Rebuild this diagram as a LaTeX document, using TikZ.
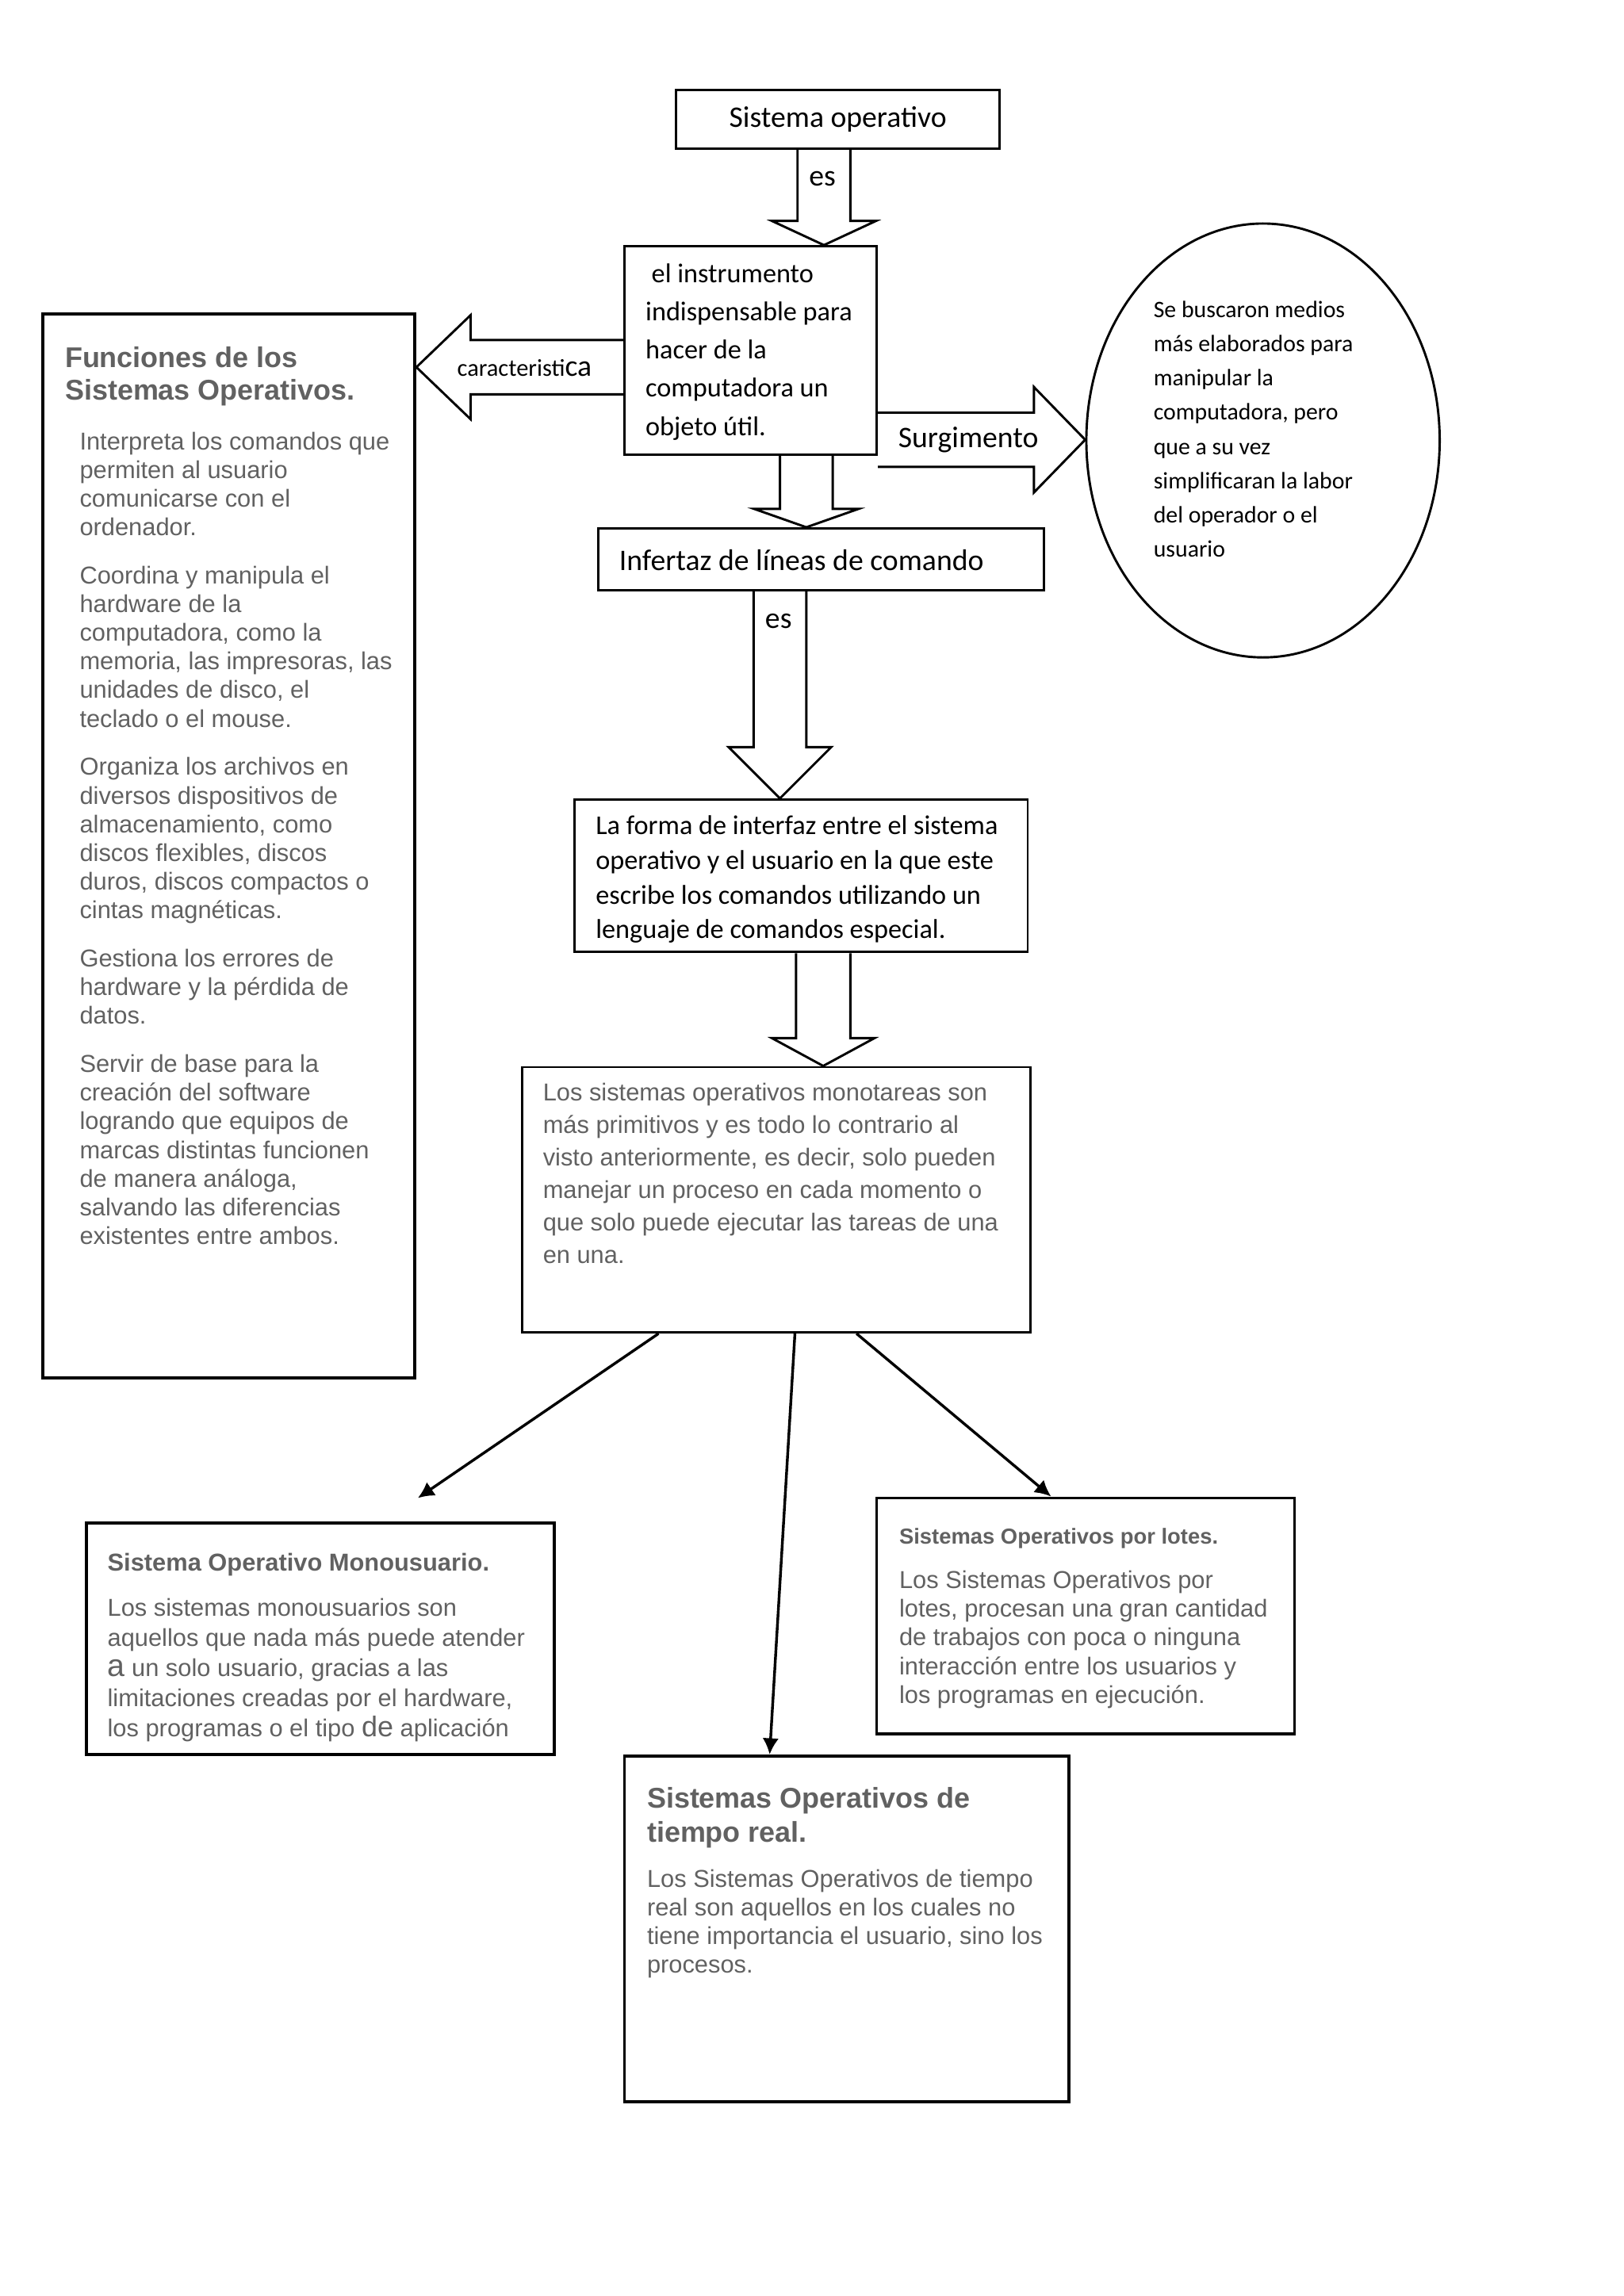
\documentclass[tikz,border=0pt]{standalone}
\usepackage{fontspec}
\setmainfont{Carlito}
\newfontfamily\arial{Liberation Sans}
\usetikzlibrary{calc,shapes.geometric,arrows.meta}
\newlength{\px}
\setlength{\px}{0.01896cm}
\definecolor{grisdoc}{RGB}{97,97,97}
\tikzstyle{caja}=[draw,line width=0.85pt,rectangle,inner sep=0pt]
\tikzstyle{cajagris}=[draw,line width=1.1pt,rectangle,inner sep=0pt]
\tikzstyle{calibri}=[inner sep=0pt,align=left,font=\fontsize{10}{14.07}\selectfont]
\tikzstyle{gris}=[text=grisdoc,inner sep=0pt,anchor=north west,align=left,font=\arial\fontsize{9}{11.1}\selectfont]
\tikzstyle{bloque}=[draw,line width=0.85pt,line join=miter]
\tikzstyle{flecha}=[draw,line width=1pt,-{Latex[length=2.1mm,width=2.1mm]}]
% flecha gruesa hacia abajo: inicio, punta, medio cuerpo, media cabeza, largo cabeza
\newcommand{\bajada}[5]{%
  \draw[bloque] ($(#1)+(-#3,0)$) -- ($(#2)+(-#3,-#5)$) -- ($(#2)+(-#4,-#5)$) -- (#2)
    -- ($(#2)+(#4,-#5)$) -- ($(#2)+(#3,-#5)$) -- ($(#1)+(#3,0)$);}
% flecha gruesa horizontal (largo de cabeza con signo)
\newcommand{\lateral}[5]{%
  \draw[bloque] ($(#1)+(0,-#3)$) -- ($(#2)+({-1*(#5)},-#3)$) -- ($(#2)+({-1*(#5)},-#4)$) -- (#2)
    -- ($(#2)+({-1*(#5)},#4)$) -- ($(#2)+({-1*(#5)},#3)$) -- ($(#1)+(0,#3)$);}
\begin{document}
\begin{tikzpicture}[x=0.01896cm,y=-0.01896cm]
  \useasboundingbox (0,0) rectangle (1107.5,1566.4);
  % cajas
  \node[caja,minimum width=221\px,minimum height=40\px,font=\fontsize{11}{13}\selectfont] (so) at (571.5,81.5) {Sistema operativo};
  \node[caja,minimum width=172\px,minimum height=142\px] (inst) at (512,239) {};
  \node[calibri,anchor=west] (insttxt) at (440,240) {\hspace{.22em}el instrumento\\indispensable para\\hacer de la\\computadora un\\objeto útil.};
  \node[cajagris,minimum width=254\px,minimum height=726\px] (fun) at (156,577) {};
  \node[draw,ellipse,line width=0.85pt,minimum width=241\px,minimum height=296\px,inner sep=0pt] (ell) at (861.5,300.5) {};
  \node[inner sep=0pt,anchor=north west,align=left,font=\fontsize{8.7}{12.6}\selectfont] (elltxt) at (786.5,205) {Se buscaron medios\\más elaborados para\\manipular la\\computadora, pero\\que a su vez\\simplificaran la labor\\del operador o el\\usuario};
  \node[caja,minimum width=304\px,minimum height=42\px] (ilc) at (560,381.5) {};
  \node[inner sep=0pt,anchor=west,font=\fontsize{11}{13}\selectfont] (ilctxt) at (422,382) {Infertaz de líneas de comando};
  \node[caja,minimum width=309\px,minimum height=104\px] (form) at (546.5,597.5) {};
  \node[calibri,anchor=west,font=\fontsize{10}{12.7}\selectfont] (formtxt) at (406,600) {La forma de interfaz entre el sistema\\operativo y el usuario en la que este\\escribe los comandos utilizando un\\lenguaje de comandos especial.};
  \node[caja,minimum width=347\px,minimum height=181\px] (mono) at (529.5,818.5) {};
  \node[gris,font=\arial\fontsize{9}{12}\selectfont] (monotxt) at (370,738.4) {Los sistemas operativos monotareas son\\más primitivos y es todo lo contrario al\\visto anteriormente, es decir, solo pueden\\manejar un proceso en cada momento o\\que solo puede ejecutar las tareas de una\\en una.};
  \node[cajagris,minimum width=319\px,minimum height=158\px] (musr) at (218.5,1118) {};
  \node[cajagris,minimum width=285\px,minimum height=161\px] (lote) at (740.5,1102.5) {};
  \node[cajagris,minimum width=303\px,minimum height=236\px] (real) at (577.5,1316) {};
  % textos grises
  \node[gris,font=\arial\bfseries\fontsize{10.5}{12}\selectfont] (funtit) at (44,236) {Funciones de los\\Sistemas Operativos.};
  \node[gris,font=\arial\fontsize{9}{10.55}\selectfont] (funtxt) at (54,294.3) {Interpreta los comandos que\\permiten al usuario\\comunicarse con el\\ordenador.\\[7.2pt]
    Coordina y manipula el\\hardware de la\\computadora, como la\\memoria, las impresoras, las\\unidades de disco, el\\teclado o el mouse.\\[7.2pt]
    Organiza los archivos en\\diversos dispositivos de\\almacenamiento, como\\discos flexibles, discos\\duros, discos compactos o\\cintas magnéticas.\\[7.2pt]
    Gestiona los errores de\\hardware y la pérdida de\\datos.\\[7.2pt]
    Servir de base para la\\creación del software\\logrando que equipos de\\marcas distintas funcionen\\de manera análoga,\\salvando las diferencias\\existentes entre ambos.};
  \node[gris,font=\arial\bfseries\fontsize{9}{11}\selectfont] (musrtit) at (73,1059.3) {Sistema Operativo Monousuario.};
  \node[gris] (musrtxt) at (73,1090.3) {Los sistemas monousuarios son\\aquellos que nada más puede atender\\{\fontsize{11.5}{11.1}\selectfont a} un solo usuario, gracias a las\\limitaciones creadas por el hardware,\\los programas o el tipo {\fontsize{10.5}{11.1}\selectfont de} aplicación};
  \node[gris,font=\arial\bfseries\fontsize{8}{10}\selectfont] (lotetit) at (613,1042.2) {Sistemas Operativos por lotes.};
  \node[gris,font=\arial\fontsize{9}{10.55}\selectfont] (lotetxt) at (613,1071.3) {Los Sistemas Operativos por\\lotes, procesan una gran cantidad\\de trabajos con poca o ninguna\\interacción entre los usuarios y\\los programas en ejecución.};
  \node[gris,font=\arial\bfseries\fontsize{10.5}{12.45}\selectfont] (realtit) at (441,1219) {Sistemas Operativos de\\tiempo real.};
  \node[gris,font=\arial\fontsize{9}{10.5}\selectfont] (realtxt) at (441,1275.3) {Los Sistemas Operativos de tiempo\\real son aquellos en los cuales no\\tiene importancia el usuario, sino los\\procesos.};
  % flechas gruesas
  \coordinate (ejea) at (562,0);
  \coordinate (ejeb) at (550,0);
  \coordinate (ejec) at (532,0);
  \coordinate (ejed) at (561.5,0);
  \coordinate (ejeder) at (0,300);
  \coordinate (ejeizq) at (0,250.5);
  \bajada{ejea |- so.south}{ejea |- inst.north}{18}{35.5}{16.5}
  \bajada{ejeb |- inst.south}{ejeb |- ilc.north}{18}{35.5}{12.5}
  \bajada{ejec |- ilc.south}{ejec |- form.north}{18}{35}{35}
  \bajada{ejed |- form.south}{ejed |- mono.north}{18.5}{35}{19}
  \lateral{inst.east |- ejeder}{ell.west |- ejeder}{18.5}{36}{35}
  \lateral{inst.west |- ejeizq}{fun.east |- ejeizq}{18.5}{35.5}{-37}
  \node[inner sep=0pt,font=\fontsize{11}{13}\selectfont] (es1) at (561,122) {es};
  \node[inner sep=0pt,font=\fontsize{11}{13}\selectfont] (es2) at (531,424) {es};
  \node[inner sep=0pt,font=\fontsize{11}{13}\selectfont] (surg) at (660.5,300) {Surgimento};
  \node[inner sep=0pt,anchor=west] (carac) at (311.5,251) {\fontsize{8.9}{11}\selectfont caracteristi\fontsize{11}{13}\selectfont ca};
  % flechas finas
  \coordinate (pmusr) at (285,1022);
  \draw[flecha] ($(mono.south west)+(94,0)$) -- (pmusr);
  \draw[flecha] ($(mono.south west)+(187,0)$) -- ($(real.north west)+(100,0)$);
  \draw[flecha] ($(mono.south west)+(229,0)$) -- ($(lote.north west)+(120,0)$);
\end{tikzpicture}
\end{document}
